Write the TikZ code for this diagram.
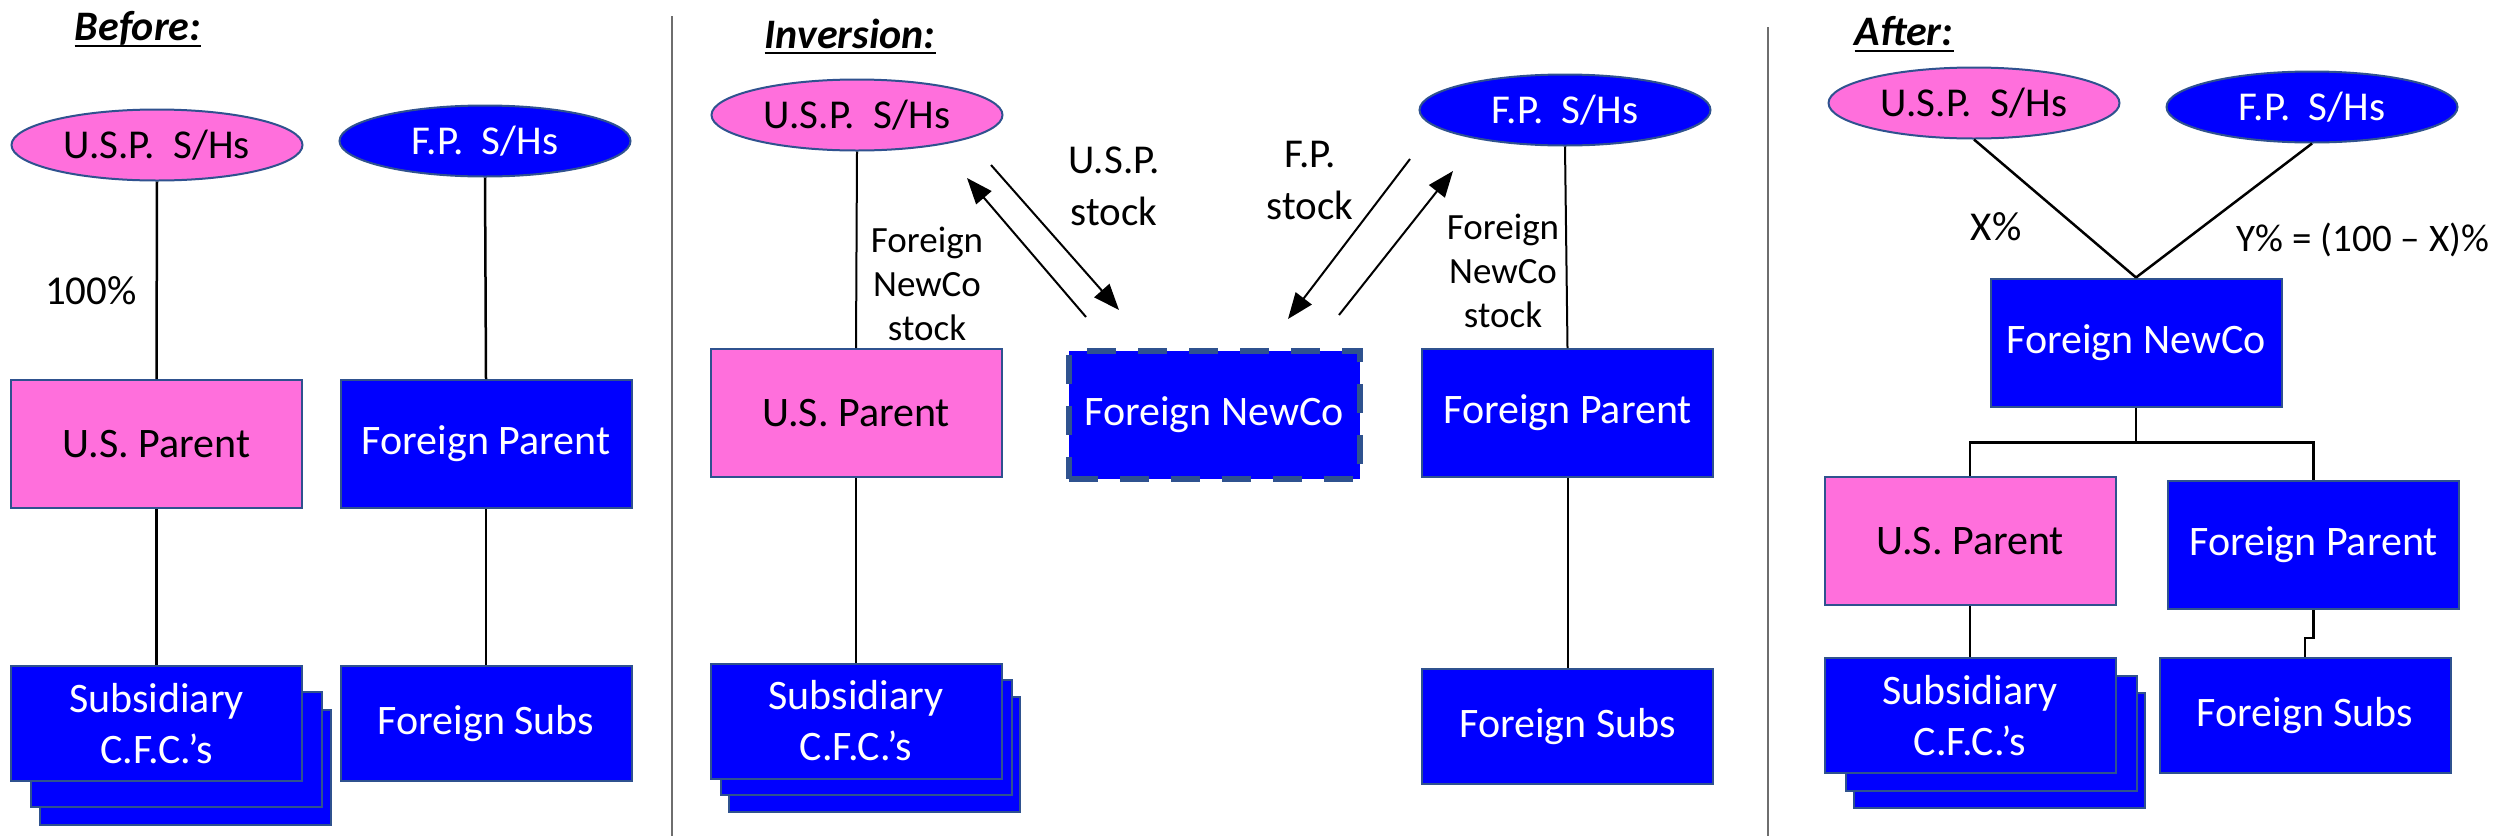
\documentclass[tikz,border=0pt]{standalone}
\usepackage{fontspec}
\setmainfont{Carlito}
\usetikzlibrary{shapes.geometric,arrows.meta,calc}
\definecolor{pinkfill}{RGB}{255,111,220}
\definecolor{bluefill}{RGB}{0,0,255}
\definecolor{edgecol}{RGB}{47,82,143}
\definecolor{divcol}{RGB}{110,110,110}
\begin{document}
\begin{tikzpicture}[x=1pt,y=-1pt,
  box/.style={draw=edgecol,line width=2pt,minimum width=291pt,minimum height=128pt,inner sep=0pt,font=\fontsize{42}{51}\selectfont,align=center},
  pbox/.style={box,fill=pinkfill,text=black},
  bbox/.style={box,fill=bluefill,text=white},
  subbox/.style={bbox,minimum height=115pt},
  dashbox/.style={bbox,draw=edgecol,line width=6pt,dash pattern=on 29pt off 22pt},
  oval/.style={ellipse,draw=edgecol,line width=2pt,minimum width=291pt,minimum height=71pt,inner sep=0pt,font=\fontsize{41}{49}\selectfont},
  poval/.style={oval,fill=pinkfill,text=black},
  boval/.style={oval,fill=bluefill,text=white},
  link/.style={draw=black,line width=2.5pt},
  thinlink/.style={draw=black,line width=2pt},
  flow/.style={draw=black,line width=2pt,-{Triangle[length=26pt,width=20pt]}},
  lbl/.style={inner sep=0pt,align=center,font=\fontsize{41}{52}\selectfont},
  smalllbl/.style={inner sep=0pt,align=center,font=\fontsize{37}{44}\selectfont},
  ttl/.style={inner sep=0pt,anchor=base,font=\fontsize{42}{50}\selectfont\bfseries\itshape},
  divider/.style={draw=divcol,line width=2pt}
]
\useasboundingbox (0,0) rectangle (2497,836);

% ---------------- Before ----------------
\node[ttl] (t1) at (138,40) {Before:};
\draw[line width=2.5pt] ([yshift=-6pt]t1.base west) -- ([yshift=-6pt]t1.base east);
\node[poval] (e1u) at (157,145) {U.S.P.~~S/Hs};
\node[boval] (e1f) at (485,141) {F.P.~~S/Hs};
\node[pbox] (p1u) at (156.5,444) {U.S. Parent};
\node[bbox] (p1f) at (486,444) {Foreign Parent};
\node[subbox] (s1u-c) at (185.5,767.5) {};
\node[subbox] (s1u-b) at (176.5,749.5) {};
\node[subbox] (s1u) at (156.5,723.5) {Subsidiary\\C.F.C.’s};
\node[subbox] (s1f) at (486,723.5) {Foreign Subs};
\node[lbl] (pc1) at (91,291) {100\%};
\draw[link] (e1u.south) -- (p1u.north);
\draw[link] (e1f.south) -- (p1f.north);
\draw[link] (p1u.south) -- ++(0,81) -| (s1u.north);
\draw[link] (p1f.south) -- ++(0,81) -| (s1f.north);

\coordinate (d1a) at (672,16);
\coordinate (d1b) at (672,836);
\draw[divider] (d1a) -- (d1b);

% ---------------- Inversion ----------------
\node[ttl] (t2) at (850,48) {Inversion:};
\draw[line width=2.5pt] ([yshift=-5pt]t2.base west) -- ([yshift=-5pt]t2.base east);
\node[poval] (e2u) at (857,115) {U.S.P.~~S/Hs};
\node[boval] (e2f) at (1565,110) {F.P.~~S/Hs};
\node[pbox] (p2u) at (856,413) {U.S. Parent};
\node[dashbox] (n2) at (1214,415) {Foreign NewCo};
\node[bbox] (p2f) at (1567.5,413) {Foreign Parent};
\node[subbox] (s2u-c) at (874,754) {};
\node[subbox] (s2u-b) at (866,737) {};
\node[subbox] (s2u) at (856,721) {Subsidiary\\C.F.C.’s};
\node[subbox] (s2f) at (1567.5,726.5) {Foreign Subs};
\node[smalllbl] (l2a) at (927,284) {Foreign\\NewCo\\stock};
\node[lbl] (l2b) at (1114,186) {U.S.P.\\stock};
\node[lbl] (l2c) at (1310,180) {F.P.\\stock};
\node[smalllbl] (l2d) at (1503,271) {Foreign\\NewCo\\stock};
\draw[thinlink] (e2u.south) -- (p2u.north);
\draw[thinlink] (e2f.south) -- (p2f.north);
\draw[thinlink] (p2u.south) -- ++(0,94) -| (s2u.north);
\draw[thinlink] (p2f.south) -- ++(0,97) -| (s2f.north);
\coordinate (a1s) at (1086,317);
\coordinate (a1e) at (967,178);
\coordinate (a2s) at (991,165);
\coordinate (a2e) at (1119,310);
\coordinate (a3s) at (1410,159);
\coordinate (a3e) at (1288,319);
\coordinate (a4s) at (1339,315);
\coordinate (a4e) at (1453,171);
\draw[flow] (a1s) -- (a1e);
\draw[flow] (a2s) -- (a2e);
\draw[flow] (a3s) -- (a3e);
\draw[flow] (a4s) -- (a4e);

\coordinate (d2a) at (1768,27);
\coordinate (d2b) at (1768,836);
\draw[divider] (d2a) -- (d2b);

% ---------------- After ----------------
\node[ttl] (t3) at (1904,45) {After:};
\draw[line width=2.5pt] ([yshift=-6pt]t3.base west) -- ([yshift=-6pt]t3.base east);
\node[poval] (e3u) at (1974,103) {U.S.P.~~S/Hs};
\node[boval] (e3f) at (2312,107) {F.P.~~S/Hs};
\node[bbox] (n3) at (2136,342.5) {Foreign NewCo};
\node[pbox] (p3u) at (1970,541) {U.S. Parent};
\node[bbox] (p3f) at (2313.5,545) {Foreign Parent};
\node[subbox] (s3u-c) at (1999,750.5) {};
\node[subbox] (s3u-b) at (1991,733.5) {};
\node[subbox] (s3u) at (1970,715.5) {Subsidiary\\C.F.C.’s};
\node[subbox] (s3f) at (2305,715.5) {Foreign Subs};
\node[lbl] (x3) at (1996,227) {X\%};
\node[lbl,font=\fontsize{39}{47}\selectfont] (y3) at (2363,240) {Y\% = (100 – X)\%};
\draw[link] (e3u.south) -- (n3.north);
\draw[link] (e3f.south) -- (n3.north);
\draw[link] (n3.south) -- ++(0,35) -| (p3u.north);
\draw[link] (n3.south) -- ++(0,35) -| (p3f.north);
\draw[link] (p3u.south) -- ++(0,28) -| (s3u.north);
\draw[link] (p3f.south) -- ++(0,28) -| (s3f.north);
\end{tikzpicture}
\end{document}
